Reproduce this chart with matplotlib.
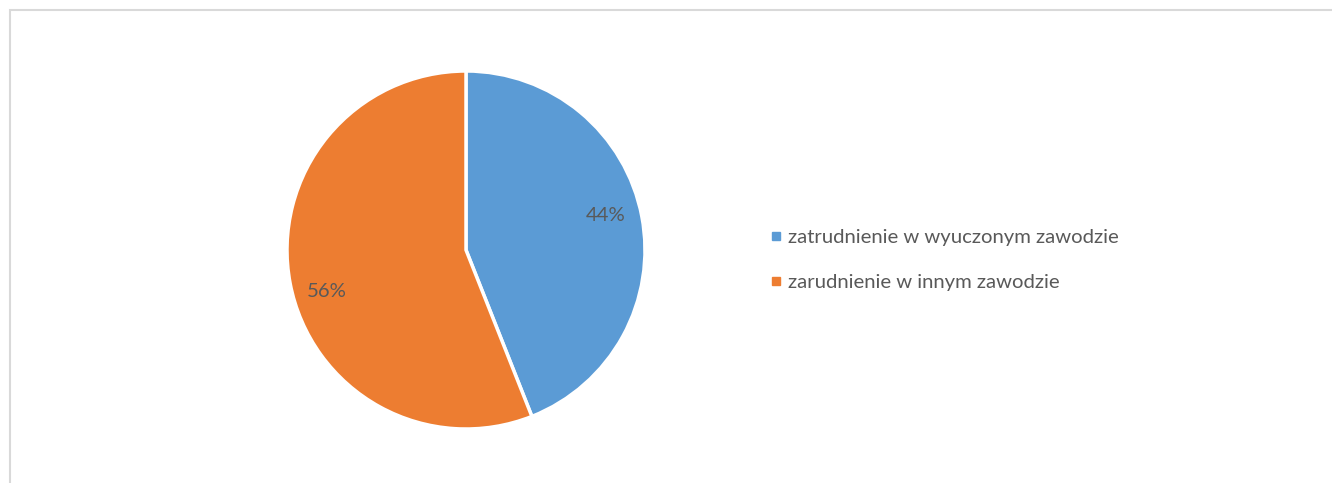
import matplotlib.pyplot as plt
from matplotlib.patches import Rectangle
from matplotlib.lines import Line2D

# dane
labels = ['zatrudnienie w wyuczonym zawodzie', 'zarudnienie w innym zawodzie']
values = [44, 56]
colors = ['#5B9BD5', '#ED7D31']

plt.rcParams['font.family'] = ['Lato', 'DejaVu Sans']
W, H = 1332, 483
fig = plt.figure(figsize=(W / 100, H / 100), dpi=100)

# ramka wykresu
fig.patches.append(Rectangle((10 / W, -0.1), 1.2, 1 - 10 / H + 0.1,
                             transform=fig.transFigure, fill=False,
                             edgecolor='#D9D9D9', linewidth=1.5))

# wykres kołowy
cx, cy, r = 466, H - 250, 179
ax = fig.add_axes([(cx - r) / W, (cy - r) / H, 2 * r / W, 2 * r / H])
wedges, texts, autotexts = ax.pie(values, colors=colors, startangle=90, counterclock=False,
                                  autopct='%1.0f%%', pctdistance=0.8,
                                  wedgeprops=dict(edgecolor='white', linewidth=2.5),
                                  textprops=dict(color='#595959', fontsize=14.6))
# etykiety procentowe jak w Excelu
autotexts[0].set_position((0.78, 0.19))
autotexts[1].set_position((-0.78, -0.23))
ax.set_xlim(-1, 1)
ax.set_ylim(-1, 1)
ax.set_aspect('equal')
ax.axis('off')

# legenda
handles = [Line2D([], [], linestyle='none', marker='s', markersize=5.8,
                  markerfacecolor=c, markeredgecolor=c) for c in colors]
fig.legend(handles, labels, loc='center left', bbox_to_anchor=(771 / W, (H - 260) / H),
           frameon=False, fontsize=14.6, labelcolor='#595959',
           handlelength=0.5, handletextpad=0.35, labelspacing=1.35,
           borderaxespad=0, borderpad=0)

plt.savefig('out.png', dpi=100)
